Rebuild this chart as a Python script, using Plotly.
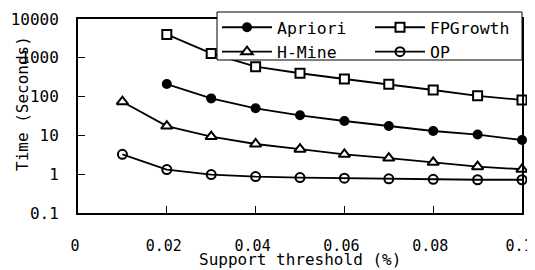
import plotly.graph_objects as go

support = [0.01, 0.02, 0.03, 0.04, 0.05, 0.06, 0.07, 0.08, 0.09, 0.1]
apriori = [None, 211, 90, 50, 33, 23.5, 17.4, 13, 10.5, 7.6]
fpgrowth = [None, 4000, 1300, 590, 400, 284, 208, 148, 105, 82]
hmine = [74, 17.4, 9.3, 6.0, 4.4, 3.25, 2.6, 2.03, 1.56, 1.34]
op = [3.25, 1.32, 0.98, 0.87, 0.82, 0.79, 0.76, 0.74, 0.72, 0.72]

x_ticks = [0, 0.02, 0.04, 0.06, 0.08, 0.1]
x_ticktext = ["0", "0.02", "0.04", "0.06", "0.08", "0.1"]
y_ticks = [0.1, 1, 10, 100, 1000, 10000]
y_ticktext = ["0.1", "1", "10", "100", "1000", "10000"]

FONT = "DejaVu Sans Mono"
LW = 1.8

fig = go.Figure()
fig.add_trace(go.Scatter(x=support, y=apriori, name="Apriori", mode="lines+markers",
                         line=dict(color="black", width=LW),
                         marker=dict(symbol="circle", size=10, color="black"),
                         cliponaxis=False))
fig.add_trace(go.Scatter(x=support, y=fpgrowth, name="FPGrowth", mode="lines+markers",
                         line=dict(color="black", width=LW),
                         marker=dict(symbol="square", size=9, color="white",
                                     line=dict(color="black", width=2)),
                         cliponaxis=False))
fig.add_trace(go.Scatter(x=support, y=hmine, name="H-Mine", mode="lines+markers",
                         line=dict(color="black", width=LW),
                         marker=dict(symbol="triangle-up", size=10, color="white",
                                     line=dict(color="black", width=2)),
                         cliponaxis=False))
fig.add_trace(go.Scatter(x=support, y=op, name="OP", mode="lines+markers",
                         line=dict(color="black", width=LW),
                         marker=dict(symbol="circle-open", size=9, color="black",
                                     line=dict(color="black", width=2)),
                         cliponaxis=False))

# page body has an 8px default margin, so the figure is drawn 8px in
W, H = 527, 262
L, R, T, B = 70, 13, 11, 57
pw = W - L - R
ph = H - T - B

fig.update_layout(
    width=W, height=H,
    margin=dict(l=L, r=R, t=T, b=B, pad=0, autoexpand=False),
    paper_bgcolor="white", plot_bgcolor="white",
    font=dict(family=FONT, size=16, color="black"),
    showlegend=True,
    legend=dict(orientation="h", x=139 / pw, xanchor="left", y=1 + 9 / ph, yanchor="top",
                bgcolor="rgba(0,0,0,0)", borderwidth=0,
                font=dict(family=FONT, size=16.5, color="black"),
                entrywidth=88, entrywidthmode="pixels", traceorder="normal",
                itemwidth=50, tracegroupgap=0),
    shapes=[dict(type="rect", xref="paper", yref="paper",
                 x0=139 / pw, x1=1, y0=1 - 41 / ph, y1=1 + 7 / ph,
                 fillcolor="white", line=dict(color="black", width=1), layer="above")],
    xaxis=dict(range=[0, 0.1], tickvals=x_ticks, ticktext=x_ticktext,
               showgrid=False, zeroline=False, showline=True, linecolor="black",
               linewidth=2, mirror=True, ticks="inside", ticklen=7, tickwidth=1,
               tickcolor="black", ticklabelstandoff=18, ticklabeloverflow="allow",
               ticklabelshift=-3,
               tickfont=dict(family=FONT, size=15)),
    yaxis=dict(type="log", range=[-1, 4], tickvals=y_ticks, ticktext=y_ticktext,
               showgrid=False, zeroline=False, showline=True, linecolor="black",
               linewidth=2, mirror=True, ticks="inside", ticklen=7, tickwidth=1,
               tickcolor="black", ticklabelstandoff=14, ticklabeloverflow="allow",
               tickfont=dict(family=FONT, size=16)),
    annotations=[
        dict(text="Support threshold (%)", xref="paper", yref="paper",
             x=0.5, y=-46 / ph, xanchor="center", yanchor="middle",
             showarrow=False, font=dict(family=FONT, size=16)),
        dict(text="Time (Seconds)", xref="paper", yref="paper",
             x=-56 / pw, y=(ph - 85) / ph, xanchor="center", yanchor="middle",
             textangle=-90, showarrow=False, font=dict(family=FONT, size=16)),
    ],
)

fig.write_html("out.html")
